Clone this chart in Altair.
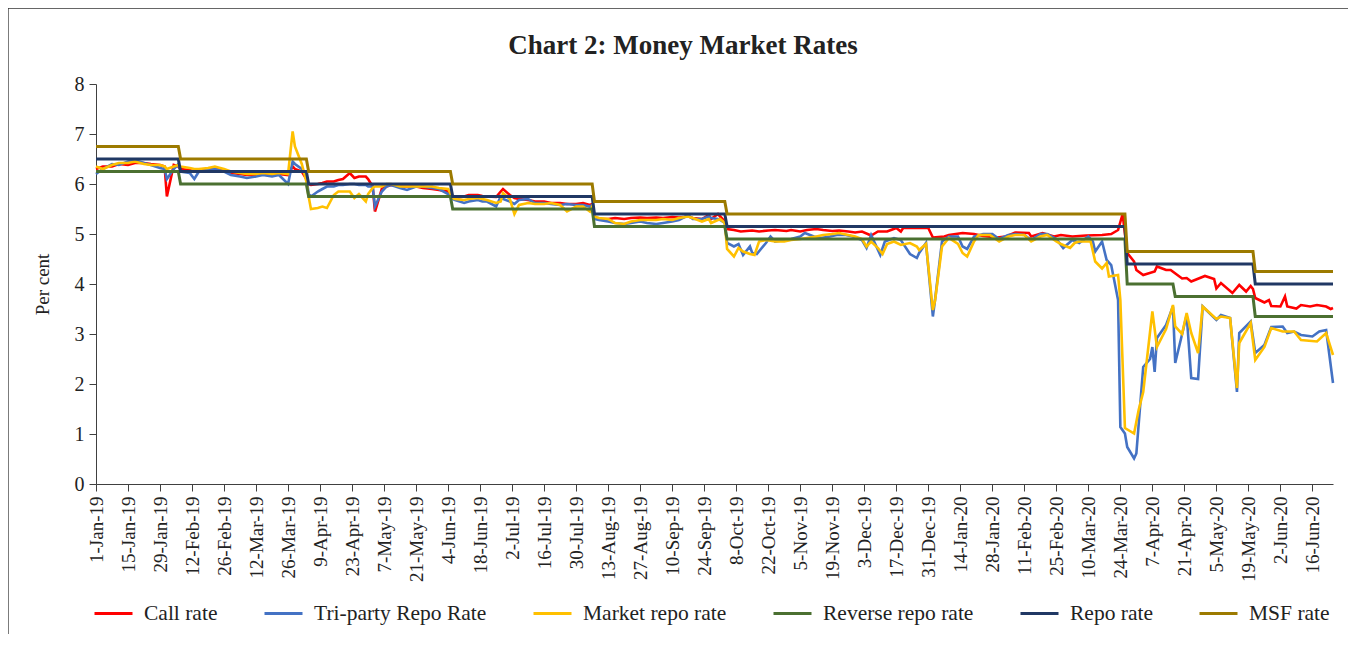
import altair as alt
import pandas as pd

# ------------------------------------------------------------------ data
SERIES = ["Call rate", "Tri-party Repo Rate", "Market repo rate",
          "Reverse repo rate", "Repo rate", "MSF rate"]
COLORS = ["#FF0000", "#4472C4", "#FFC000", "#4B7031", "#203864", "#9C7A00"]
TITLE = "Chart 2: Money Market Rates"

TICK_DATES = [
    "2019-01-01", "2019-01-15", "2019-01-29", "2019-02-12", "2019-02-26",
    "2019-03-12", "2019-03-26", "2019-04-09", "2019-04-23", "2019-05-07",
    "2019-05-21", "2019-06-04", "2019-06-18", "2019-07-02", "2019-07-16",
    "2019-07-30", "2019-08-13", "2019-08-27", "2019-09-10", "2019-09-24",
    "2019-10-08", "2019-10-22", "2019-11-05", "2019-11-19", "2019-12-03",
    "2019-12-17", "2019-12-31", "2020-01-14", "2020-01-28", "2020-02-11",
    "2020-02-25", "2020-03-10", "2020-03-24", "2020-04-07", "2020-04-21",
    "2020-05-05", "2020-05-19", "2020-06-02", "2020-06-16",
]
Y_TICKS = [0, 1, 2, 3, 4, 5, 6, 7, 8]

# Jan-Oct 2019: (date, call rate, tri-party repo, market repo)
rows_2019 = [
    ("2019-01-01", 6.30, 6.20, 6.35), ("2019-01-04", 6.35, 6.30, 6.30),
    ("2019-01-08", 6.35, 6.40, 6.38), ("2019-01-11", 6.40, 6.38, 6.42),
    ("2019-01-15", 6.38, 6.45, 6.42), ("2019-01-18", 6.42, 6.48, 6.45),
    ("2019-01-22", 6.42, 6.42, 6.40), ("2019-01-25", 6.40, 6.38, 6.38),
    ("2019-01-29", 6.38, 6.32, 6.38), ("2019-01-31", 6.35, 6.30, 6.35),
    ("2019-02-01", 5.75, 6.10, 6.30), ("2019-02-04", 6.38, 6.30, 6.35),
    ("2019-02-06", 6.35, 6.40, 6.38),
    ("2019-02-07", 6.30, 6.25, 6.35), ("2019-02-11", 6.28, 6.22, 6.32),
    ("2019-02-13", 6.25, 6.10, 6.30), ("2019-02-15", 6.28, 6.25, 6.30),
    ("2019-02-19", 6.30, 6.28, 6.32), ("2019-02-22", 6.30, 6.30, 6.35),
    ("2019-02-26", 6.28, 6.25, 6.30), ("2019-03-01", 6.22, 6.18, 6.25),
    ("2019-03-05", 6.20, 6.15, 6.22), ("2019-03-08", 6.18, 6.12, 6.20),
    ("2019-03-12", 6.18, 6.15, 6.20), ("2019-03-15", 6.20, 6.18, 6.22),
    ("2019-03-19", 6.18, 6.15, 6.20), ("2019-03-22", 6.20, 6.18, 6.22),
    ("2019-03-26", 6.18, 6.00, 6.20), ("2019-03-28", 6.35, 6.45, 7.05),
    ("2019-03-29", 6.30, 6.40, 6.75), ("2019-04-01", 6.25, 6.30, 6.40),
    ("2019-04-03", 6.10, 6.15, 6.05),
    ("2019-04-04", 6.00, 5.80, 5.75), ("2019-04-05", 5.98, 5.75, 5.50),
    ("2019-04-08", 6.00, 5.85, 5.52), ("2019-04-10", 6.02, 5.90, 5.55),
    ("2019-04-12", 6.05, 5.95, 5.52), ("2019-04-15", 6.05, 5.95, 5.78),
    ("2019-04-17", 6.08, 5.98, 5.85), ("2019-04-19", 6.10, 5.98, 5.85),
    ("2019-04-22", 6.22, 6.00, 5.85), ("2019-04-24", 6.12, 6.00, 5.72),
    ("2019-04-26", 6.15, 5.98, 5.80), ("2019-04-29", 6.15, 5.98, 5.65),
    ("2019-04-30", 6.10, 5.95, 5.80), ("2019-05-02", 5.95, 5.95, 5.92),
    ("2019-05-03", 5.45, 5.55, 5.95), ("2019-05-06", 5.90, 5.85, 5.95),
    ("2019-05-08", 5.95, 5.95, 6.00), ("2019-05-10", 5.98, 5.98, 6.00),
    ("2019-05-14", 5.95, 5.92, 5.95), ("2019-05-17", 5.95, 5.88, 5.95),
    ("2019-05-21", 5.95, 5.95, 5.95), ("2019-05-24", 5.92, 5.95, 5.95),
    ("2019-05-28", 5.90, 5.92, 5.95), ("2019-05-31", 5.88, 5.90, 5.92),
    ("2019-06-04", 5.85, 5.80, 5.90),
    ("2019-06-06", 5.72, 5.70, 5.72), ("2019-06-07", 5.72, 5.68, 5.70),
    ("2019-06-11", 5.75, 5.62, 5.68), ("2019-06-13", 5.78, 5.65, 5.70),
    ("2019-06-17", 5.78, 5.68, 5.72), ("2019-06-19", 5.76, 5.65, 5.70),
    ("2019-06-21", 5.75, 5.65, 5.68), ("2019-06-25", 5.74, 5.55, 5.62),
    ("2019-06-27", 5.85, 5.75, 5.65), ("2019-06-28", 5.90, 5.70, 5.82),
    ("2019-07-01", 5.78, 5.65, 5.70), ("2019-07-03", 5.72, 5.60, 5.40),
    ("2019-07-05", 5.70, 5.68, 5.58), ("2019-07-09", 5.68, 5.70, 5.62),
    ("2019-07-12", 5.65, 5.62, 5.60), ("2019-07-16", 5.65, 5.62, 5.60),
    ("2019-07-19", 5.62, 5.60, 5.62), ("2019-07-23", 5.62, 5.58, 5.58),
    ("2019-07-26", 5.60, 5.60, 5.45), ("2019-07-30", 5.60, 5.58, 5.55),
    ("2019-08-02", 5.62, 5.58, 5.55), ("2019-08-05", 5.58, 5.55, 5.45),
    ("2019-08-06", 5.60, 5.58, 5.55),
    ("2019-08-07", 5.32, 5.30, 5.35), ("2019-08-09", 5.30, 5.28, 5.32),
    ("2019-08-13", 5.30, 5.25, 5.30), ("2019-08-16", 5.32, 5.22, 5.22),
    ("2019-08-20", 5.30, 5.20, 5.20), ("2019-08-23", 5.32, 5.22, 5.25),
    ("2019-08-27", 5.33, 5.25, 5.28), ("2019-08-30", 5.32, 5.22, 5.28),
    ("2019-09-03", 5.33, 5.20, 5.28), ("2019-09-06", 5.32, 5.22, 5.30),
    ("2019-09-10", 5.34, 5.25, 5.28), ("2019-09-13", 5.33, 5.28, 5.32),
    ("2019-09-17", 5.35, 5.38, 5.35), ("2019-09-19", 5.32, 5.30, 5.32),
    ("2019-09-23", 5.30, 5.30, 5.25), ("2019-09-26", 5.38, 5.35, 5.30),
    ("2019-09-27", 5.30, 5.32, 5.22), ("2019-09-30", 5.40, 5.30, 5.28),
    ("2019-10-01", 5.35, 5.28, 5.30), ("2019-10-03", 5.25, 5.22, 5.22),
]

call_late = [
    ("2019-10-04", 5.10), ("2019-10-07", 5.08), ("2019-10-10", 5.05), ("2019-10-15", 5.07),
    ("2019-10-18", 5.05), ("2019-10-22", 5.07), ("2019-10-25", 5.08), ("2019-10-30", 5.06),
    ("2019-11-01", 5.08), ("2019-11-05", 5.05), ("2019-11-08", 5.08), ("2019-11-12", 5.10),
    ("2019-11-15", 5.08), ("2019-11-19", 5.06), ("2019-11-22", 5.07), ("2019-11-26", 5.05),
    ("2019-11-29", 5.03), ("2019-12-02", 5.05), ("2019-12-06", 4.97), ("2019-12-09", 5.05),
    ("2019-12-13", 5.05), ("2019-12-17", 5.12), ("2019-12-19", 5.05), ("2019-12-20", 5.12),
    ("2019-12-26", 5.12), ("2019-12-31", 5.12), ("2020-01-02", 4.93), ("2020-01-07", 4.95),
    ("2020-01-09", 4.98), ("2020-01-15", 5.02), ("2020-01-20", 5.00), ("2020-01-24", 4.96),
    ("2020-01-30", 4.93), ("2020-02-03", 4.95), ("2020-02-07", 5.03), ("2020-02-13", 5.02),
    ("2020-02-14", 4.95), ("2020-02-19", 5.02), ("2020-02-24", 4.95), ("2020-02-27", 4.98),
    ("2020-03-03", 4.95), ("2020-03-09", 4.97), ("2020-03-16", 4.98), ("2020-03-20", 5.00),
    ("2020-03-23", 5.08), ("2020-03-25", 5.40), ("2020-03-27", 4.62), ("2020-03-30", 4.45),
    ("2020-03-31", 4.28), ("2020-04-03", 4.18), ("2020-04-08", 4.25), ("2020-04-09", 4.35),
    ("2020-04-13", 4.28), ("2020-04-15", 4.28), ("2020-04-20", 4.11), ("2020-04-22", 4.12),
    ("2020-04-24", 4.05), ("2020-04-30", 4.16), ("2020-05-04", 4.10), ("2020-05-05", 3.91),
    ("2020-05-07", 4.02), ("2020-05-12", 3.82), ("2020-05-15", 3.98), ("2020-05-18", 3.85),
    ("2020-05-20", 3.96), ("2020-05-21", 3.90), ("2020-05-22", 3.72), ("2020-05-26", 3.63),
    ("2020-05-28", 3.68), ("2020-05-29", 3.56), ("2020-06-02", 3.55), ("2020-06-04", 3.75),
    ("2020-06-05", 3.55), ("2020-06-09", 3.51), ("2020-06-11", 3.58), ("2020-06-15", 3.55),
    ("2020-06-18", 3.58), ("2020-06-22", 3.55), ("2020-06-24", 3.50), ("2020-06-25", 3.52),
]

tri_late = [
    ("2019-10-04", 4.82), ("2019-10-07", 4.75), ("2019-10-09", 4.80), ("2019-10-11", 4.58),
    ("2019-10-14", 4.75), ("2019-10-15", 4.62), ("2019-10-17", 4.60), ("2019-10-21", 4.82),
    ("2019-10-23", 4.95), ("2019-10-25", 4.85), ("2019-10-29", 4.88), ("2019-11-01", 4.90),
    ("2019-11-05", 4.95), ("2019-11-07", 5.02), ("2019-11-11", 4.95), ("2019-11-14", 4.92),
    ("2019-11-18", 4.95), ("2019-11-21", 4.98), ("2019-11-25", 4.98), ("2019-11-28", 4.95),
    ("2019-12-02", 4.88), ("2019-12-04", 4.72), ("2019-12-06", 4.98), ("2019-12-10", 4.58),
    ("2019-12-12", 4.85), ("2019-12-16", 4.92), ("2019-12-19", 4.88), ("2019-12-23", 4.60),
    ("2019-12-26", 4.52), ("2019-12-27", 4.62), ("2019-12-30", 4.82), ("2020-01-02", 3.35),
    ("2020-01-03", 3.70), ("2020-01-06", 4.85), ("2020-01-09", 4.95), ("2020-01-13", 4.95),
    ("2020-01-15", 4.75), ("2020-01-17", 4.70), ("2020-01-20", 4.95), ("2020-01-24", 5.00),
    ("2020-01-28", 5.00), ("2020-01-31", 4.90), ("2020-02-04", 4.98), ("2020-02-07", 5.00),
    ("2020-02-11", 4.98), ("2020-02-14", 4.88), ("2020-02-18", 5.00), ("2020-02-21", 5.00),
    ("2020-02-25", 4.90), ("2020-02-28", 4.72), ("2020-03-03", 4.88), ("2020-03-06", 4.82),
    ("2020-03-10", 4.95), ("2020-03-12", 4.85), ("2020-03-13", 4.65), ("2020-03-16", 4.85),
    ("2020-03-18", 4.48), ("2020-03-20", 4.38), ("2020-03-23", 3.68), ("2020-03-24", 1.14),
    ("2020-03-26", 1.01), ("2020-03-27", 0.74), ("2020-03-30", 0.51), ("2020-03-31", 0.61),
    ("2020-04-03", 2.34), ("2020-04-06", 2.50), ("2020-04-07", 2.74), ("2020-04-08", 2.24),
    ("2020-04-09", 2.92), ("2020-04-13", 3.18), ("2020-04-16", 3.55), ("2020-04-17", 2.42),
    ("2020-04-22", 3.38), ("2020-04-24", 2.12), ("2020-04-27", 2.10), ("2020-04-29", 3.55),
    ("2020-05-05", 3.28), ("2020-05-07", 3.38), ("2020-05-11", 3.32), ("2020-05-14", 1.84),
    ("2020-05-15", 3.02), ("2020-05-20", 3.25), ("2020-05-22", 2.62), ("2020-05-26", 2.78),
    ("2020-05-29", 3.14), ("2020-06-03", 3.15), ("2020-06-05", 3.02), ("2020-06-08", 3.05),
    ("2020-06-11", 2.98), ("2020-06-16", 2.95), ("2020-06-19", 3.05), ("2020-06-22", 3.08),
    ("2020-06-25", 2.02),
]

mkt_late = [
    ("2019-10-04", 4.70), ("2019-10-07", 4.55), ("2019-10-09", 4.72), ("2019-10-11", 4.65),
    ("2019-10-14", 4.60), ("2019-10-16", 4.58), ("2019-10-18", 4.85), ("2019-10-21", 4.88),
    ("2019-10-25", 4.85), ("2019-10-29", 4.85), ("2019-11-01", 4.88), ("2019-11-05", 4.90),
    ("2019-11-08", 4.92), ("2019-11-12", 4.95), ("2019-11-15", 4.98), ("2019-11-19", 5.00),
    ("2019-11-22", 5.02), ("2019-11-26", 4.98), ("2019-11-29", 4.95), ("2019-12-02", 4.90),
    ("2019-12-04", 4.75), ("2019-12-06", 4.85), ("2019-12-09", 4.72), ("2019-12-11", 4.60),
    ("2019-12-13", 4.80), ("2019-12-16", 4.85), ("2019-12-19", 4.78), ("2019-12-23", 4.82),
    ("2019-12-26", 4.75), ("2019-12-27", 4.68), ("2019-12-30", 4.80), ("2020-01-02", 3.48),
    ("2020-01-03", 3.68), ("2020-01-06", 4.75), ("2020-01-09", 4.92), ("2020-01-13", 4.80),
    ("2020-01-15", 4.62), ("2020-01-17", 4.55), ("2020-01-20", 4.85), ("2020-01-22", 4.98),
    ("2020-01-27", 4.98), ("2020-01-31", 4.85), ("2020-02-04", 4.95), ("2020-02-07", 4.98),
    ("2020-02-11", 4.98), ("2020-02-14", 4.85), ("2020-02-18", 4.95), ("2020-02-21", 4.98),
    ("2020-02-25", 4.85), ("2020-02-27", 4.80), ("2020-03-02", 4.72), ("2020-03-04", 4.82),
    ("2020-03-06", 4.85), ("2020-03-11", 4.85), ("2020-03-13", 4.45), ("2020-03-16", 4.31),
    ("2020-03-18", 4.42), ("2020-03-19", 4.15), ("2020-03-23", 4.18), ("2020-03-24", 3.68),
    ("2020-03-26", 1.12), ("2020-03-30", 1.01), ("2020-04-01", 1.48), ("2020-04-03", 1.84),
    ("2020-04-07", 3.45), ("2020-04-09", 2.74), ("2020-04-13", 3.10), ("2020-04-16", 3.58),
    ("2020-04-17", 3.15), ("2020-04-20", 3.00), ("2020-04-22", 3.42), ("2020-04-24", 3.02),
    ("2020-04-27", 2.62), ("2020-04-29", 3.55), ("2020-05-05", 3.30), ("2020-05-07", 3.35),
    ("2020-05-11", 3.32), ("2020-05-14", 1.92), ("2020-05-15", 2.82), ("2020-05-20", 3.22),
    ("2020-05-22", 2.48), ("2020-05-26", 2.74), ("2020-05-29", 3.12), ("2020-06-03", 3.05),
    ("2020-06-08", 3.05), ("2020-06-11", 2.88), ("2020-06-18", 2.85), ("2020-06-22", 3.02),
    ("2020-06-25", 2.58),
]

# policy corridor (stepped)
policy_dates = ["2019-01-01", "2019-02-06", "2019-02-07", "2019-04-03", "2019-04-04",
                "2019-06-05", "2019-06-06", "2019-08-06", "2019-08-07", "2019-10-03",
                "2019-10-04", "2020-03-26", "2020-03-27", "2020-05-21", "2020-05-22",
                "2020-06-25"]
repo_vals = [6.50, 6.50, 6.25, 6.25, 6.00, 6.00, 5.75, 5.75, 5.40, 5.40,
             5.15, 5.15, 4.40, 4.40, 4.00, 4.00]
msf_vals = [6.75, 6.75, 6.50, 6.50, 6.25, 6.25, 6.00, 6.00, 5.65, 5.65,
            5.40, 5.40, 4.65, 4.65, 4.25, 4.25]
rev_dates = ["2019-01-01", "2019-02-06", "2019-02-07", "2019-04-03", "2019-04-04",
             "2019-06-05", "2019-06-06", "2019-08-06", "2019-08-07", "2019-10-03",
             "2019-10-04", "2020-03-26", "2020-03-27", "2020-04-16", "2020-04-17",
             "2020-05-21", "2020-05-22", "2020-06-25"]
rev_vals = [6.25, 6.25, 6.00, 6.00, 5.75, 5.75, 5.50, 5.50, 5.15, 5.15,
            4.90, 4.90, 4.00, 4.00, 3.75, 3.75, 3.35, 3.35]

# ------------------------------------------------------------------ table
recs = []
for d, c, t, m in rows_2019:
    recs.append({"date": d, "value": c, "series": SERIES[0]})
    recs.append({"date": d, "value": t, "series": SERIES[1]})
    recs.append({"date": d, "value": m, "series": SERIES[2]})
for s, lst in ((SERIES[0], call_late), (SERIES[1], tri_late), (SERIES[2], mkt_late)):
    for d, v in lst:
        recs.append({"date": d, "value": v, "series": s})
for d, v in zip(rev_dates, rev_vals):
    recs.append({"date": d, "value": v, "series": SERIES[3]})
for d, v in zip(policy_dates, repo_vals):
    recs.append({"date": d, "value": v, "series": SERIES[4]})
for d, v in zip(policy_dates, msf_vals):
    recs.append({"date": d, "value": v, "series": SERIES[5]})
df = pd.DataFrame(recs)


def dt(s):
    y, m, d = (int(p) for p in s.split("-"))
    return alt.DateTime(year=y, month=m, date=d, utc=True)


FONT = "Liberation Serif"
TXT = "#222222"
AX = "#404040"

x_enc = alt.X(
    "date:T",
    scale=alt.Scale(type="utc", domain=[dt("2019-01-01"), dt("2020-06-25")], nice=False),
    axis=alt.Axis(values=[dt(s) for s in TICK_DATES],
                  labelExpr="utcFormat(datum.value, '%-d-%b-%y')",
                  labelAngle=270, labelFont=FONT, labelFontSize=19, labelColor=TXT,
                  labelOverlap=False, labelFlush=False, labelPadding=5,
                  tickSize=7, tickColor=AX, domainColor=AX, grid=False, title=None),
)
y_enc = alt.Y(
    "value:Q",
    scale=alt.Scale(domain=[0, 8], nice=False, zero=True),
    axis=alt.Axis(values=Y_TICKS, labelFont=FONT, labelFontSize=20, labelColor=TXT,
                  labelPadding=5, tickSize=7, tickColor=AX, domainColor=AX, grid=False,
                  title="Per cent", titleFont=FONT, titleFontSize=19, titleFontWeight="normal",
                  titleColor=TXT, titleAngle=270, titleX=-54, titleY=200,
                  titleAlign="center", titleBaseline="middle"),
)
color_enc = alt.Color(
    "series:N",
    scale=alt.Scale(domain=SERIES, range=COLORS),
    legend=alt.Legend(title=None, orient="none", legendX=-3, legendY=509,
                      direction="horizontal", columns=6, symbolType="stroke",
                      symbolSize=1444, symbolStrokeWidth=3, labelFont=FONT,
                      labelFontSize=21.5, labelColor=TXT, labelOffset=10,
                      labelLimit=400, columnPadding=40),
)

base = alt.Chart(df)
layers = []
for i, s in enumerate(SERIES):
    w = 2.6 if i < 3 else 3.0
    layers.append(
        base.transform_filter(alt.datum.series == s)
        .mark_line(strokeWidth=w)
        .encode(x=x_enc, y=y_enc, color=color_enc)
    )

one = pd.DataFrame({"k": [0]})
frame_v = alt.Chart(one).mark_rule(color="#333333", strokeWidth=1.3).encode(
    x=alt.value(-88), y=alt.value(-76), y2=alt.value(560))
frame_h = alt.Chart(one).mark_rule(color="#333333", strokeWidth=1.3).encode(
    x=alt.value(-88), x2=alt.value(1260), y=alt.value(-76))
title_txt = alt.Chart(one).mark_text(
    font=FONT, fontSize=27, fontWeight="bold", color=TXT,
    align="center", baseline="alphabetic").encode(
    x=alt.value(587), y=alt.value(-30), text=alt.value(TITLE))

chart = alt.layer(*layers, frame_v, frame_h, title_txt).properties(
    width=1237,
    height=400,
    autosize=alt.AutoSizeParams(type="none"),
    padding={"left": 88, "top": 76, "right": 15, "bottom": 150},
).configure_view(strokeWidth=0)

chart.save("out.html", embed_options={"renderer": "svg", "actions": False})
